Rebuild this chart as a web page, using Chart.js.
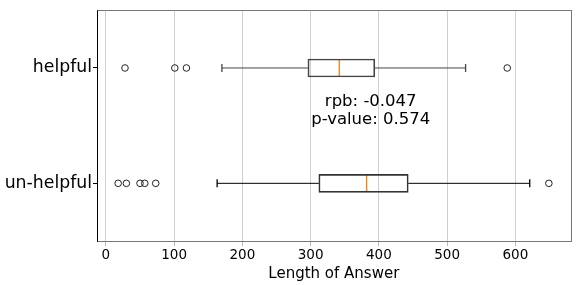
<!DOCTYPE html>
<html>
<head>
<meta charset="utf-8">
<script src="https://cdn.jsdelivr.net/npm/chart.js@4.4.1/dist/chart.umd.min.js"></script>
<style>
  html, body { margin: 0; padding: 0; background: #fff; }
  #wrap { width: 581px; height: 285px; }
</style>
</head>
<body>
<div id="wrap"><canvas id="chart" width="581" height="285"></canvas></div>
<script>
const groups = ["helpful", "un-helpful"];
const q1 = [296, 312];
const q3 = [394, 443];
const medians = [342, 382];
const whiskerLow = [170, 163];
const whiskerHigh = [527, 621];
const outliers = [
  [28, 101, 118, 588],
  [18, 30, 50, 57, 73, 649]
];
const xTicks = [0, 100, 200, 300, 400, 500, 600];
const statLines = ["rpb: -0.047", "p-value: 0.574"];

const FONT = "'DejaVu Sans', sans-serif";

// whisker segments and caps, one dataset per side per group
const whiskerSets = [];
groups.forEach((g, i) => {
  [[whiskerLow[i], q1[i]], [q3[i], whiskerHigh[i]]].forEach(([a, b], k) => {
    const cap = k === 0 ? a : b;
    whiskerSets.push({
      type: "line",
      data: [{ x: a, y: g }, { x: b, y: g }],
      borderColor: i === 0 ? "#444" : "#000",
      borderWidth: 1,
      pointStyle: "line",
      rotation: 90,
      pointRadius: ctx => (ctx.raw && ctx.raw.x === cap ? 4 : 0),
      pointBorderColor: i === 0 ? "#444" : "#000",
      pointBorderWidth: 1.3
    });
  });
});

const frame = {
  id: "frame",
  afterDraw(chart) {
    const { ctx, chartArea: a, scales } = chart;
    ctx.save();
    ctx.lineWidth = 1;
    ctx.strokeStyle = "#777";
    ctx.strokeRect(Math.round(a.left) + 0.5, Math.round(a.top) + 0.5,
      Math.round(a.right - a.left), Math.round(a.bottom - a.top));
    ctx.strokeStyle = "#000";
    ctx.beginPath();
    ctx.moveTo(Math.round(a.left) + 0.5, a.top);
    ctx.lineTo(Math.round(a.left) + 0.5, a.bottom + 1);
    ctx.stroke();

    // stats text, bottom aligned between the two groups
    const x = scales.x.getPixelForValue(388);
    const yMid = (scales.y.getPixelForValue(0) + scales.y.getPixelForValue(1)) / 2;
    ctx.fillStyle = "#000";
    ctx.font = "16.5px " + FONT;
    ctx.textAlign = "center";
    ctx.textBaseline = "alphabetic";
    ctx.fillText(statLines[0], x, yMid - 20);
    ctx.fillText(statLines[1], x, yMid - 2);
    ctx.restore();
  }
};

new Chart(document.getElementById("chart"), {
  type: "bar",
  data: {
    labels: groups,
    datasets: [
      {
        label: "box",
        data: groups.map((g, i) => [q1[i], q3[i]]),
        backgroundColor: "rgba(0,0,0,0)",
        borderColor: ["#444", "#333"],
        borderWidth: 1,
        borderSkipped: false,
        barThickness: 18
      },
      ...whiskerSets,
      {
        type: "scatter",
        label: "median",
        data: groups.map((g, i) => ({ x: medians[i], y: g })),
        pointStyle: "line",
        rotation: 90,
        pointRadius: 9,
        pointBorderColor: "#ff7f0e",
        pointBorderWidth: 1.3,
        backgroundColor: "#ff7f0e"
      },
      {
        type: "scatter",
        label: "outliers",
        data: outliers.flatMap((vals, i) => vals.map(v => ({ x: v, y: groups[i] }))),
        pointStyle: "circle",
        pointRadius: 3.3,
        pointBorderColor: "#222",
        pointBorderWidth: 1,
        pointBackgroundColor: "rgba(0,0,0,0)"
      }
    ]
  },
  options: {
    indexAxis: "y",
    responsive: false,
    animation: false,
    events: [],
    layout: { padding: { top: 6.5, right: 10, left: 0, bottom: 2 } },
    plugins: {
      legend: { display: false },
      tooltip: { enabled: false }
    },
    scales: {
      x: {
        type: "linear",
        min: -13,
        max: 681,
        afterBuildTicks: s => { s.ticks = xTicks.map(v => ({ value: v })); },
        grid: { color: "#cfcfcf", lineWidth: 1, tickLength: 5, tickColor: "#bbb" },
        border: { display: false },
        ticks: { color: "#000", font: { family: FONT, size: 13.5 }, padding: 1, maxRotation: 0 },
        title: {
          display: true,
          text: "Length of Answer",
          color: "#000",
          font: { family: FONT, size: 15 },
          padding: { top: 0, bottom: 0 }
        },
        afterFit: s => { s.height = 42; }
      },
      y: {
        type: "category",
        offset: true,
        grid: { display: true, drawOnChartArea: false, offset: false, tickLength: 4, tickColor: "#000" },
        border: { display: false },
        ticks: { color: "#000", font: { family: FONT, size: 17.3, lineHeight: 0.6 }, padding: 1 },
        afterFit: s => { s.width = 97; s.paddingTop = 0; s.paddingBottom = 0; }
      }
    }
  },
  plugins: [frame]
});
</script>
</body>
</html>
